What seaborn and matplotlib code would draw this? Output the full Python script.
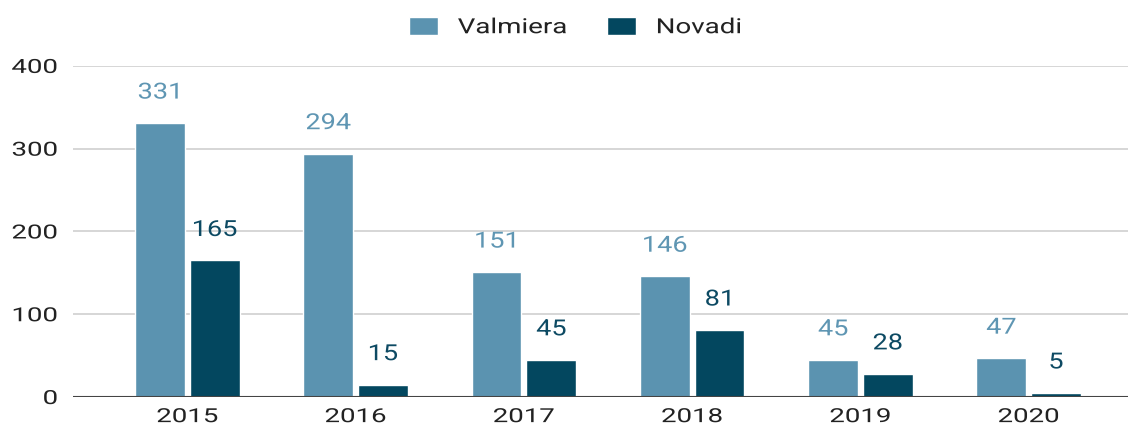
import matplotlib
matplotlib.use("Agg")
import matplotlib.pyplot as plt
import pandas as pd
import seaborn as sns
from matplotlib.patheffects import AbstractPathEffect
from matplotlib.transforms import Affine2D

years = ["2015", "2016", "2017", "2018", "2019", "2020"]
valmiera = [331, 294, 151, 146, 45, 47]
novadi = [165, 15, 45, 81, 28, 5]
series_names = ["Valmiera", "Novadi"]
colors = ["#5b93b0", "#03475f"]
label_colors = ["#5f96b3", "#0d4a63"]

df = pd.DataFrame({
    "year": years * 2,
    "value": valmiera + novadi,
    "series": [series_names[0]] * len(years) + [series_names[1]] * len(years),
})


class HStretch(AbstractPathEffect):
    # the reference text is drawn wider than the font's own width
    def __init__(self, sx, anchor="center"):
        super().__init__()
        self.sx = sx
        self.anchor = anchor

    def draw_path(self, renderer, gc, tpath, affine, rgbFace=None):
        ext = tpath.get_extents(affine)
        if self.anchor == "left":
            cx = ext.x0
        elif self.anchor == "right":
            cx = ext.x1
        else:
            cx = (ext.x0 + ext.x1) / 2
        stretch = Affine2D().translate(-cx, 0).scale(self.sx, 1).translate(cx, 0)
        renderer.draw_path(gc, tpath, affine + stretch, rgbFace)


sns.set_style("white")
plt.rcParams["font.family"] = ["Roboto", "DejaVu Sans"]

fig = plt.figure(figsize=(11.3, 4.28), dpi=100)
ax = fig.add_axes([0.0646, 0.0724, 0.9336, 0.7736])

sns.barplot(data=df, x="year", y="value", hue="series", palette=colors,
            width=0.65, gap=0.09, saturation=1, ax=ax, legend=True)

ax.set_ylim(0, 400)
ax.set_xlim(-0.68, 5.59)
ax.set_yticks([0, 100, 200, 300, 400])
ax.grid(True, axis="y", color="#d0d0d0", linewidth=1.2)
ax.set_axisbelow(True)
ax.axhline(0, color="#444444", linewidth=1.5, zorder=3)
sns.despine(ax=ax, left=True, bottom=True)
ax.tick_params(axis="both", length=0, labelsize=14, colors="#222222")
ax.tick_params(axis="y", pad=11)
ax.tick_params(axis="x", pad=8)
ax.set_xlabel("")
ax.set_ylabel("")

for cont, col in zip(ax.containers, label_colors):
    texts = ax.bar_label(cont, padding=14, fontsize=16, color=col)
    for t in texts:
        t.set_path_effects([HStretch(1.22)])

handles, labels = ax.get_legend_handles_labels()
ax.get_legend().remove()
leg = fig.legend(handles, labels, loc="center", bbox_to_anchor=(0.5, 0.937), ncol=2,
                 frameon=False, fontsize=15, handlelength=1.4, handleheight=1.0,
                 columnspacing=3.2, handletextpad=0.96, labelcolor="#222222")
for t in leg.get_texts():
    t.set_path_effects([HStretch(1.33, "left")])

for lbl in ax.get_xticklabels():
    lbl.set_path_effects([HStretch(1.42)])
for lbl in ax.get_yticklabels():
    lbl.set_path_effects([HStretch(1.42, "right")])

fig.savefig("out.png", dpi=100)
